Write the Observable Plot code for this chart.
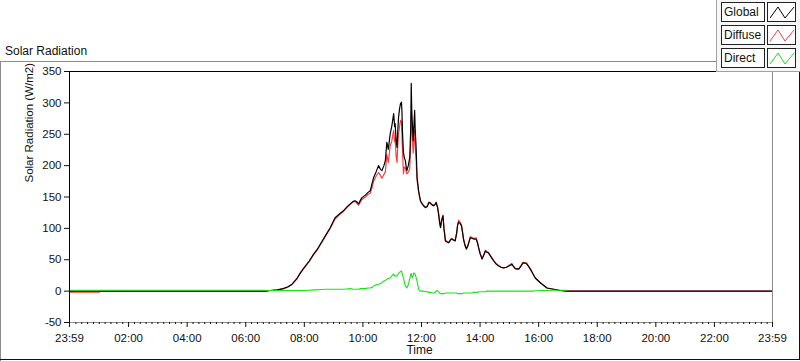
<!DOCTYPE html>
<html><head><meta charset="utf-8">
<script src="https://cdn.jsdelivr.net/npm/d3@7"></script>
<script src="https://cdn.jsdelivr.net/npm/@observablehq/plot@0.6"></script>
<style>
body{margin:0;background:#fff;font-family:"Liberation Sans",Arial,sans-serif;}
#wrap{position:relative;width:800px;height:361px;overflow:hidden;background:#fff;}
#head{position:relative;height:61px;border-bottom:1px solid #8c8c8c;}
#title{position:absolute;left:5px;top:45px;font-size:12px;line-height:12px;color:#111;}
#chart{position:relative;height:299px;}
#chart svg{display:block;}
.fl{position:absolute;}
#legend{position:absolute;left:716px;top:0;width:84px;height:71px;background:#f7f7f7;border-left:1px solid #a0a0a0;border-bottom:1px solid #a0a0a0;}
.lab{position:absolute;left:4px;width:40px;height:18px;border:1px solid #222;background:#fff;font-size:12px;line-height:18px;padding-left:2px;box-sizing:content-box;color:#111;}
.sw{position:absolute;left:50px;width:27px;height:18px;border:1px solid #222;background:#fff;}
.sw svg{position:absolute;left:0;top:0;}
</style></head>
<body>
<div id="wrap">
  <div id="head"><div id="title">Solar Radiation</div></div>
  <div id="chart"></div>
  <div class="fl" style="left:0;top:62px;width:1px;height:299px;background:#8c8c8c"></div>
  <div class="fl" style="left:0;top:359px;width:800px;height:1px;background:#111"></div>
  <div class="fl" style="left:799px;top:72px;width:1px;height:288px;background:#111"></div>
  <div id="legend"></div>
</div>
<script>
// ---- data ----
const times = ["00:00","01:00","01:02","06:00","06:40","06:50","07:05","07:17","07:27","07:35","07:44","07:52","08:00","08:10","08:19","08:26","08:33","08:43","08:53","09:03","09:12","09:20","09:27","09:34","09:40","09:44","09:48","09:51","09:55","09:58","10:05","10:10","10:15","10:19","10:22","10:27","10:32","10:36","10:39","10:43","10:46","10:49","10:52","10:56","10:59","11:01","11:03","11:05","11:06","11:08","11:10","11:11","11:13","11:15","11:17","11:19","11:20","11:21","11:23","11:25","11:27","11:29","11:30","11:33","11:36","11:38","11:39","11:40","11:41","11:43","11:44","11:46","11:47","11:49","11:50","11:51","11:53","11:54","11:56","11:58","12:01","12:04","12:08","12:12","12:15","12:18","12:22","12:25","12:28","12:30","12:33","12:35","12:37","12:39","12:41","12:44","12:46","12:49","12:53","12:56","13:00","13:02","13:06","13:09","13:12","13:14","13:16","13:19","13:22","13:24","13:26","13:29","13:32","13:35","13:38","13:40","13:44","13:47","13:52","13:55","13:57","14:00","14:04","14:08","14:11","14:14","14:17","14:22","14:28","14:33","14:38","14:43","14:48","14:54","14:59","15:05","15:08","15:12","15:19","15:24","15:28","15:35","15:39","15:43","15:48","15:53","16:04","16:17","16:31","16:44","16:58","23:59"];
const globalRad = [0,0,0,0,0,1,2,4,7,11,19,29,38,48,59,66,75,88,101,117,123,128,134,139,143,144,142,139,145,149,153,157,160,172,181,190,200,194,192,200,208,237,226,251,262,272,283,262,267,240,229,250,277,290,299,301,286,255,221,212,208,196,192,200,213,260,331,290,272,240,255,288,260,229,205,181,168,160,152,144,140,136,133,135,141,140,137,136,138,141,133,123,110,101,112,120,100,80,78,77,82,83,81,80,92,105,110,108,104,94,83,73,67,72,80,85,84,83,83,76,69,60,51,58,64,62,61,55,48,43,40,38,37,38,40,43,40,36,35,40,45,44,40,35,28,21,13,5,3,1,0,0];
const diffuseRad = [-1.5,-1.5,0,0,0,1,2,4,7,11,19,29,37,47,58,65,74,87,100,115,122,127,133,138,142,143,140,137,142,146,150,154,156,166,175,183,189,184,180,186,190,218,205,232,238,248,256,238,245,215,205,226,250,262,272,270,250,225,187,198,196,190,187,190,195,240,285,270,250,220,235,256,232,210,190,176,165,158,150,143,139,137,134,136,142,141,138,137,139,142,134,124,111,102,113,121,101,81,79,78,83,84,82,81,93,106,113,110,105,95,84,74,68,73,81,87,85,84,85,77,70,61,52,59,65,63,62,56,49,44,41,38,37,38,41,44,40,36,35,41,46,45,40,35,28,21,13,5,3,1,0,0];
const directRad = [1.5,1.5,1.5,1.5,1.5,1,1,1,1,1,1,1,1,1.5,2,2,2.5,3,3,3,3,3,3.5,4,3,3,3,3,4,4,4,5,5,6,8,10,11,12,14,16,17,19,20,21,24,26,27,24,25,24,24,26,28,30,31,32,30,26,21,14,8,6,5,10,20,27,28,24,21,25,29,28,27,22,18,16,8,3,1,0,0,0,-1,-1,-2,-2,-3,-3,-2,0,1,-1,-3,-4,-4,-4,-4,-3,-3,-3,-3,-3,-3,-3,-3,-4,-4,-4,-4,-4,-3,-3,-3,-3,-3,-3,-3,-2,-2,-2,-1,-1,-1,-1,-1,0,0,0,0,0,0,0,0,0,0,0,0,0,0,0,0,0,0,0,0,0.5,1,1,1.5,1.5,1.5];
const yTicks = [-50,0,50,100,150,200,250,300,350];
const xTickLabels = ["23:59","02:00","04:00","06:00","08:00","10:00","12:00","14:00","16:00","18:00","20:00","22:00","23:59"];
const seriesNames = ["Global","Diffuse","Direct"];
const seriesColors = ["#000000","#ff3b3b","#14e614"];

// ---- build ----
const toMin = s => { const [h,m] = s.split(":").map(Number); return h*60+m; };
const xTicks = xTickLabels.map((s,i) => i === 0 ? -1 : toMin(s));
const labelOf = new Map(xTicks.map((t,i)=>[t, xTickLabels[i]]));
const minor = d3.range(12, 1439, 12).filter(m => m % 120 !== 0);
const mk = vals => times.map((t,i) => ({t: toMin(t), v: vals[i]}));
const gRows = mk(globalRad), dRows = mk(diffuseRad), rRows = mk(directRad);

const plot = Plot.plot({
  width: 800, height: 299,
  marginLeft: 69, marginRight: 28, marginTop: 9, marginBottom: 39,
  style: {fontFamily: '"Liberation Sans", Arial, sans-serif', fontSize: "11.5px", color: "#111", background: "transparent", overflow: "visible"},
  x: {domain: [-1, 1439]},
  y: {domain: [-50, 350]},
  marks: [
    Plot.line(dRows, {x: "t", y: "v", stroke: seriesColors[1], strokeWidth: 1.2}),
    Plot.line(gRows, {x: "t", y: "v", stroke: seriesColors[0], strokeWidth: 1.2}),
    Plot.line(rRows, {x: "t", y: "v", stroke: seriesColors[2], strokeWidth: 1.1}),
    Plot.ruleX([1439], {stroke: "#8c8c8c"}),
    Plot.ruleY([-50], {stroke: "#8c8c8c"}),
    Plot.ruleX([-1], {stroke: "#000"}),
    Plot.ruleY([350], {stroke: "#000"}),
    Plot.axisY(yTicks, {tickSize: 5, tickPadding: 3, tickFormat: d => String(d), label: null}),
    Plot.axisX(xTicks, {tickSize: 5, tickPadding: 6, tickFormat: d => labelOf.get(d), label: null, letterSpacing: -0.3}),
    Plot.axisX(minor, {tickSize: 2, fill: "none", label: null}),
    Plot.text(["Solar Radiation (W/m2)"], {frameAnchor: "left", rotate: -90, dx: -40.5, dy: -14.5, fontSize: 11.5}),
    Plot.text(["Time"], {frameAnchor: "bottom", dx: -1.5, dy: 31.5, fontSize: 12})
  ]
});
document.getElementById("chart").appendChild(plot);

// legend
const legend = document.getElementById("legend");
const tops = [2, 25, 48];
seriesNames.forEach((name, i) => {
  const lab = document.createElement("div");
  lab.className = "lab"; lab.style.top = tops[i] + "px"; lab.textContent = name;
  legend.appendChild(lab);
  const sw = document.createElement("div");
  sw.className = "sw"; sw.style.top = tops[i] + "px";
  sw.innerHTML = `<svg width="27" height="18"><polyline points="2,15 10,4 17,15 26,4" fill="none" stroke="${seriesColors[i]}" stroke-width="1"/></svg>`;
  legend.appendChild(sw);
});
</script>
</body></html>
